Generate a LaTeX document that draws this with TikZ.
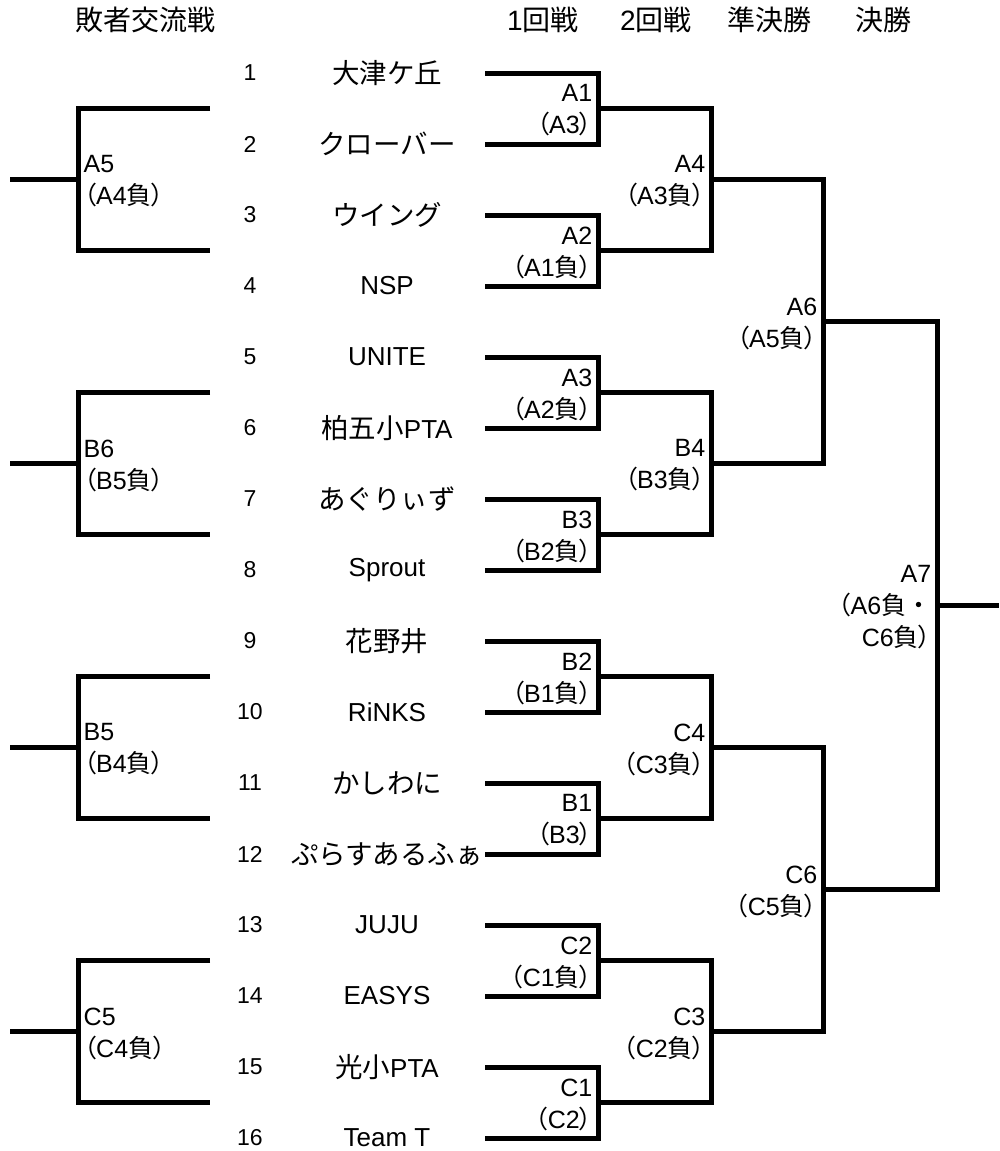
\documentclass[tikz,border=0pt]{standalone}
\usepackage{fontspec}
\setmainfont{Liberation Sans}
\newfontfamily\cjk{Noto Sans CJK JP}
\newfontfamily\cjkp[RawFeature=+palt]{Noto Sans CJK JP}
\usetikzlibrary{calc}
\newcommand\J[1]{{\cjk #1}}
\newcommand\JT[1]{{\cjk\fontsize{27.5}{27.5}\selectfont #1}}
\newcommand\LP{{\cjkp （}}
\newcommand\RP{{\cjkp ）}}
\begin{document}
\begin{tikzpicture}[x=1pt,y=-1pt,
  br/.style={draw=black, line width=5pt, line join=miter},
  num/.style={font=\fontsize{23}{23}\selectfont, inner sep=0pt},
  team/.style={font=\fontsize{26}{26}\selectfont, inner sep=0pt},
  rlab/.style={anchor=east, align=right, inner sep=0pt, font=\fontsize{25}{32}\selectfont},
  llab/.style={anchor=west, align=left, inner sep=0pt, font=\fontsize{25}{32}\selectfont},
  head/.style={font=\fontsize{28}{28}\selectfont, inner sep=0pt}]
\useasboundingbox (0,0) rectangle (999,1151);
% column x positions
\coordinate (XL0) at (10,0);
\coordinate (XL1) at (78,0);
\coordinate (XL2) at (210,0);
\coordinate (X2) at (711,0);
\coordinate (X3) at (823,0);
\coordinate (X4) at (937,0);
\coordinate (XR) at (999,0);
% headings
\node[head] (h0) at (145,20) {\J{敗者交流戦}};
\node[head] (h1) at (543,20) {1\J{回戦}};
\node[head] (h2) at (656,20) {2\J{回戦}};
\node[head] (h3) at (769,20) {\J{準決勝}};
\node[head] (h4) at (883,20) {\J{決勝}};
% teams
\foreach \i/\n in {1/{\JT{大津ケ丘}},2/{\JT{クローバー}},3/{\JT{ウイング}},4/{NSP},
  5/{UNITE},6/{\JT{柏五小}PTA},7/{\JT{あぐりぃず}},8/{Sprout},
  9/{\JT{花野井}},10/{RiNKS},11/{\JT{かしわに}},12/{\JT{ぷらすあるふぁ}},
  13/{JUJU},14/{EASYS},15/{\JT{光小}PTA},16/{Team T}} {
  \pgfmathsetmacro\yy{73+71*(\i-1)}
  \node[num] (n\i) at (250,\yy) {\i};
  \node[team] (tm\i) at (387,\yy) {\n};
  \coordinate (t\i) at (485,\yy);
  \coordinate (v\i) at (598,\yy);
}
% first round brackets
\foreach \k [evaluate=\k as \a using int(2*\k-1), evaluate=\k as \b using int(2*\k)] in {1,...,8} {
  \draw[br] (t\a) -- (v\a) -- (v\b) -- (t\b);
  \coordinate (p\k) at ($(v\a)!0.5!(v\b)$);
}
% second round brackets
\foreach \j [evaluate=\j as \a using int(2*\j-1), evaluate=\j as \b using int(2*\j)] in {1,...,4} {
  \draw[br] (p\a) -- (p\a -| X2) -- (p\b -| X2) -- (p\b);
  \coordinate (q\j) at ($(p\a -| X2)!0.5!(p\b -| X2)$);
  % consolation brackets
  \draw[br] (p\a -| XL2) -- (p\a -| XL1) -- (p\b -| XL1) -- (p\b -| XL2);
  \coordinate (lq\j) at (q\j -| XL1);
  \draw[br] (lq\j) -- (q\j -| XL0);
}
% semifinal brackets
\foreach \k [evaluate=\k as \a using int(2*\k-1), evaluate=\k as \b using int(2*\k)] in {1,2} {
  \draw[br] (q\a) -- (q\a -| X3) -- (q\b -| X3) -- (q\b);
  \coordinate (s\k) at ($(q\a -| X3)!0.5!(q\b -| X3)$);
}
% final
\draw[br] (s1) -- (s1 -| X4) -- (s2 -| X4) -- (s2);
\coordinate (f) at ($(s1 -| X4)!0.5!(s2 -| X4)$);
\draw[br] (f) -- (f -| XR);
% labels
\foreach \k/\t in {1/{A1\\\LP A3\RP},2/{A2\\\LP A1\J{負}\RP},3/{A3\\\LP A2\J{負}\RP},
  4/{B3\\\LP B2\J{負}\RP},5/{B2\\\LP B1\J{負}\RP},6/{B1\\\LP B3\RP},
  7/{C2\\\LP C1\J{負}\RP},8/{C1\\\LP C2\RP}}
  \node[rlab] (l1\k) at ($(p\k)+(-5.5,2)$) {\t};
\foreach \k/\t in {1/{A4\\\LP A3\J{負}\RP},2/{B4\\\LP B3\J{負}\RP},
  3/{C4\\\LP C3\J{負}\RP},4/{C3\\\LP C2\J{負}\RP}}
  \node[rlab] (l2\k) at ($(q\k)+(-5.5,2)$) {\t};
\foreach \k/\t in {1/{A6\\\LP A5\J{負}\RP},2/{C6\\\LP C5\J{負}\RP}}
  \node[rlab] (l3\k) at ($(s\k)+(-5.5,2)$) {\t};
\node[rlab] (l4) at ($(f)+(-5.5,2)$) {A7\\\LP A6\J{負・}\\C6\J{負}\RP};
\foreach \k/\t in {1/{A5\\\LP A4\J{負}\RP},2/{B6\\\LP B5\J{負}\RP},
  3/{B5\\\LP B4\J{負}\RP},4/{C5\\\LP C4\J{負}\RP}}
  \node[llab] (ll\k) at ($(lq\k)+(5.5,2)$) {\t};
\end{tikzpicture}
\end{document}
